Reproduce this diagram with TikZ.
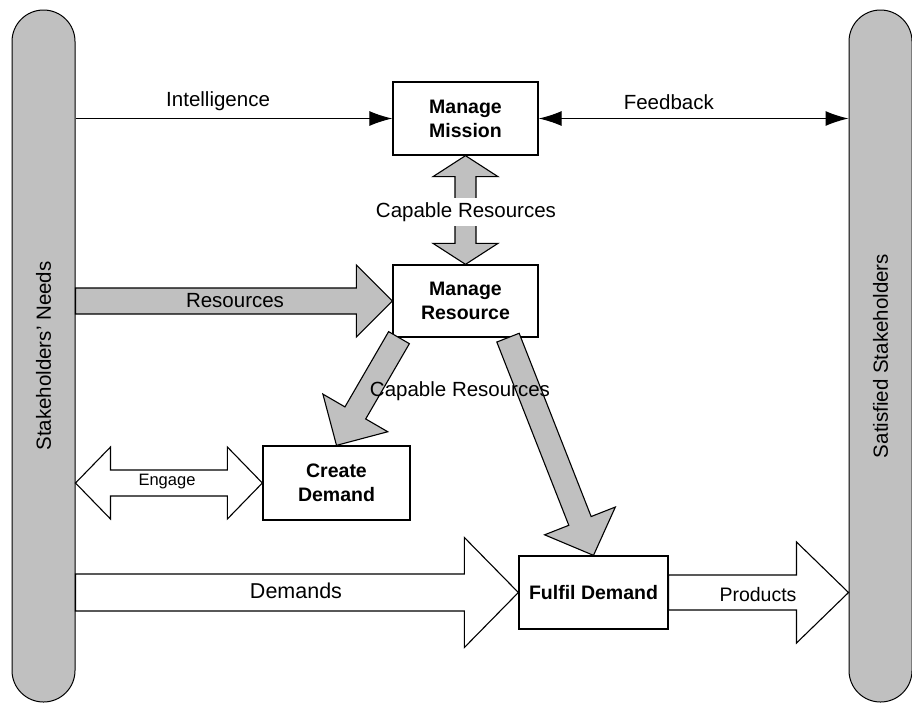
\documentclass[tikz,border=0pt]{standalone}
\usepackage{fontspec}
\setmainfont{Liberation Sans}
\usetikzlibrary{calc,arrows.meta}
\definecolor{pillargray}{RGB}{192,192,192}
\tikzset{
  pillar/.style={draw, fill=pillargray, line width=1pt, rounded corners=31.5pt,
    minimum width=63pt, minimum height=692pt, inner sep=0pt},
  proc/.style={draw, fill=white, line width=1.3pt, align=center, inner sep=0pt,
    font=\fontsize{19.5}{24}\selectfont\bfseries},
  lbl/.style={font=\fontsize{20.5}{24}\selectfont},
  grayblock/.style={draw, fill=pillargray, line width=1.1pt, line join=miter},
  whiteblock/.style={draw, fill=white, line width=1.1pt, line join=miter},
}
% block arrow: style, from, to, shaft half width, head half width, head length
\newcommand{\blockarrow}[6]{%
  \coordinate (ba-b) at ($(#3)!#6!(#2)$);
  \draw[#1] ($(#2)!#4!90:(#3)$) -- ($(ba-b)!#4!90:(#3)$) -- ($(ba-b)!#5!90:(#3)$)
    -- (#3) -- ($(ba-b)!#5!-90:(#3)$) -- ($(ba-b)!#4!-90:(#3)$)
    -- ($(#2)!#4!-90:(#3)$) -- cycle;}
% same with a head at both ends
\newcommand{\dblockarrow}[6]{%
  \coordinate (ba-a) at ($(#2)!#6!(#3)$);
  \coordinate (ba-b) at ($(#3)!#6!(#2)$);
  \draw[#1] (#2) -- ($(ba-a)!#5!90:(#3)$) -- ($(ba-a)!#4!90:(#3)$)
    -- ($(ba-b)!#4!-90:(#2)$) -- ($(ba-b)!#5!-90:(#2)$) -- (#3)
    -- ($(ba-b)!#5!90:(#2)$) -- ($(ba-b)!#4!90:(#2)$)
    -- ($(ba-a)!#4!-90:(#3)$) -- ($(ba-a)!#5!-90:(#3)$) -- cycle;}
\begin{document}
\begin{tikzpicture}[x=1pt, y=-1pt, >={Latex[length=23pt,width=15pt]}]
\useasboundingbox (0,0) rectangle (912,705);
% stakeholders
\node[pillar, label={[rotate=90, lbl]center:Stakeholders' Needs}] (needs) at (43.5,356) {};
\node[pillar, label={[rotate=90, lbl]center:Satisfied Stakeholders}] (sat) at (880.5,356) {};
% processes
\node[proc, minimum width=145pt, minimum height=73pt] (mmis) at (465.5,118.5) {Manage\\Mission};
\node[proc, minimum width=145pt, minimum height=72pt] (mres) at (465.5,301) {Manage\\Resource};
\node[proc, minimum width=147pt, minimum height=74pt] (cdem) at (336.5,483) {Create\\Demand};
\node[proc, minimum width=149pt, minimum height=73pt] (fdem) at (593.5,592.5) {Fulfil Demand};
% line flows
\draw[->, line width=1.2pt] (needs.east |- mmis.west) -- node[lbl, above=4pt, pos=.45] {Intelligence} (mmis.west);
\draw[<->, line width=1.2pt] (mmis.east) -- node[lbl, above=5pt, pos=.42] {Feedback} (sat.west |- mmis.east);
% block flows
\dblockarrow{grayblock}{mres.north}{mmis.south}{10.5pt}{32.5pt}{21pt}
\node[lbl, fill=white, inner sep=4pt] (caplbl) at (466,212) {Capable Resources};
\blockarrow{grayblock}{needs.east |- mres.west}{mres.west}{13pt}{36pt}{36pt}
\node[lbl] (reslbl) at (235,301) {Resources};
\coordinate (mresl) at ($(mres.south)+(-66.5,0)$);
\coordinate (mresr) at ($(mres.south)+(42.5,0)$);
\blockarrow{grayblock}{mresl}{cdem.north}{12pt}{37.5pt}{37.5pt}
\blockarrow{grayblock}{mresr}{fdem.north}{12pt}{38pt}{37pt}
\node[lbl] (caplbl2) at (460,391) {Capable Resources};
\dblockarrow{whiteblock}{needs.east |- cdem.west}{cdem.west}{13pt}{36pt}{35pt}
\node[font=\fontsize{16.5}{20}\selectfont] (englbl) at (167,482) {Engage};
\blockarrow{whiteblock}{needs.east |- fdem.west}{fdem.west}{18.5pt}{55pt}{54pt}
\node[font=\fontsize{21.5}{24}\selectfont] (demlbl) at (296,591) {Demands};
\blockarrow{whiteblock}{fdem.east}{sat.west |- fdem.east}{17.5pt}{50.5pt}{52pt}
\node[font=\fontsize{19.5}{24}\selectfont] (prodlbl) at (758,595) {Products};
\end{tikzpicture}
\end{document}
